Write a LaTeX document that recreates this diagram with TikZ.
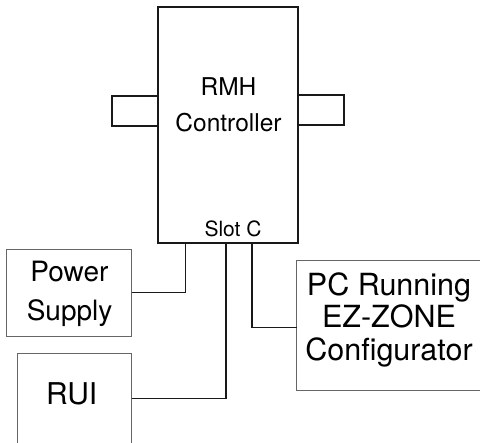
\documentclass[tikz,border=0pt]{standalone}
\usepackage{fontspec}
\setmainfont{TeX Gyre Heros}
\usetikzlibrary{calc}
\begin{document}
\begin{tikzpicture}[x=1pt,y=-1pt,
  heavy/.style={draw=black!90, line width=1.4pt},
  thinbox/.style={draw=black!60, line width=0.9pt, inner sep=0pt, outer sep=0pt, anchor=north west},
  wire/.style={draw=black!90, line width=1.2pt},
  lbl/.style={text=black, align=center, inner sep=0pt, anchor=base}]
\clip (0,0) rectangle (480,443);
% controller
\node[heavy, inner sep=0pt, outer sep=0pt, minimum width=140pt, minimum height=236pt, anchor=north west] (ctrl) at (158,7) {};
\node[lbl, font=\fontsize{24.5}{36.5}\selectfont] (ctrltext) at (228.5,132) {RMH\\Controller};
\node[lbl, font=\fontsize{21}{25}\selectfont] (slot) at (233,237) {Slot C};
% stubs
\draw[heavy] ($(ctrl.north west)+(0,89)$) -- ++(-46,0) -- ++(0,30) -- ($(ctrl.north west)+(0,119)$);
\draw[heavy] ($(ctrl.north east)+(0,88)$) -- ++(46,0) -- ++(0,30) -- ($(ctrl.north east)+(0,118)$);
% boxes
\node[thinbox, minimum width=125pt, minimum height=86.7pt] (ps) at (6.7,249.3) {};
\node[lbl, font=\fontsize{28}{39}\selectfont] (pstext) at (69.5,321) {Power\\Supply};
\node[thinbox, minimum width=114.4pt, minimum height=100pt] (rui) at (17.3,353.3) {};
\node[lbl, font=\fontsize{30}{34}\selectfont] (ruitext) at (71.7,405) {RUI};
\node[thinbox, minimum width=200pt, minimum height=130pt] (pc) at (296.7,260) {};
\node[lbl, font=\fontsize{30.5}{32.5}\selectfont] (pctext) at (389,360.3) {PC Running\\EZ-ZONE\hspace*{22pt}\\Configurator};
% connectors
\coordinate (c1) at (185.5,243);
\coordinate (c2) at (226,243);
\coordinate (c3) at (252,243);
\draw[wire] (ps.east) -| (c1);
\draw[wire] ($(rui.north east)+(0,45)$) -| (c2);
\draw[wire] (c3) |- ($(pc.north west)+(0,67.3)$);
\end{tikzpicture}
\end{document}
